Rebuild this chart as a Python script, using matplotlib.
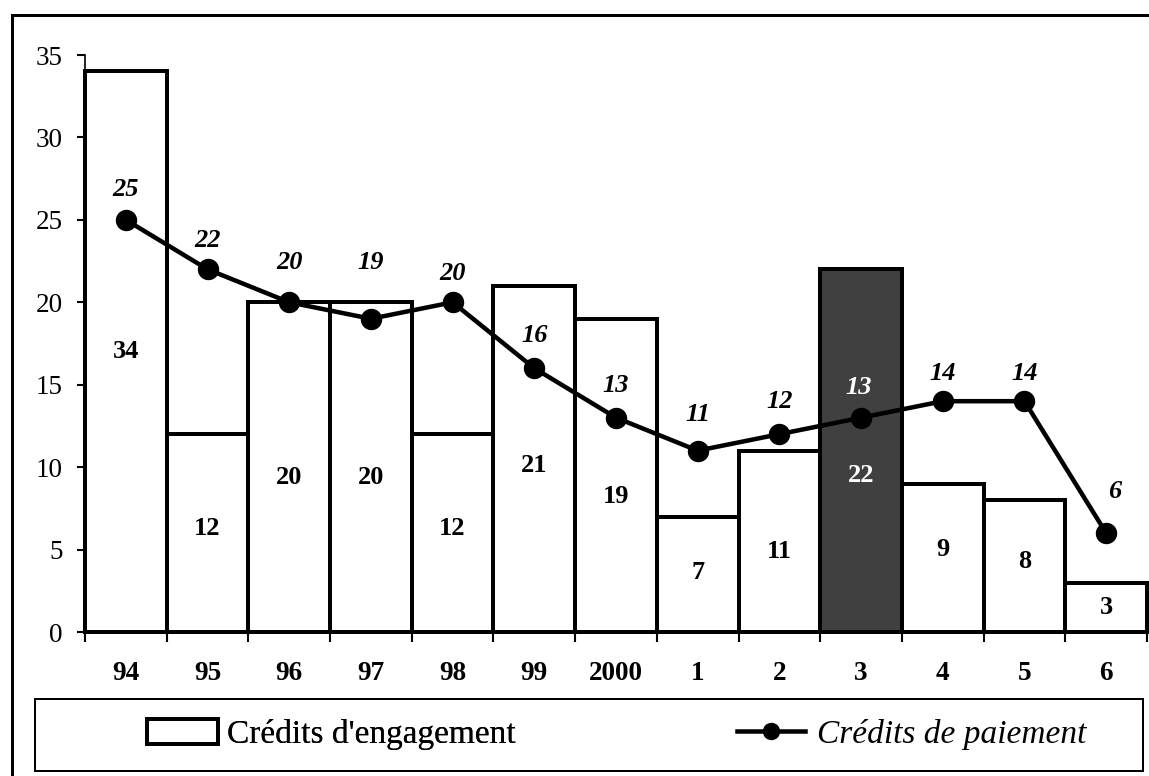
import matplotlib
matplotlib.use("Agg")
import matplotlib.pyplot as plt
from matplotlib.patches import Rectangle
from matplotlib.font_manager import FontProperties
from matplotlib.ticker import FixedLocator

# ---- data ----
categories = ["94", "95", "96", "97", "98", "99", "2000", "1", "2", "3", "4", "5", "6"]
engagement = [34, 12, 20, 20, 12, 21, 19, 7, 11, 22, 9, 8, 3]
paiement = [25, 22, 20, 19, 20, 16, 13, 11, 12, 13, 14, 14, 6]
highlight_index = 9

# ---- label placement (positions only) ----
bar_label_y = [17.0, 6.3, 9.4, 9.4, 6.3, 10.1, 8.2, 3.6, 4.9, 9.5, 5.0, 4.3, 1.5]
line_label_off_px = [30, 29, 40, 56, 29, 33, 32, 36, 33, 30, 28, 28, 42]
line_label_dx_px = [0, 0, 0, 0, 0, 0, 0, 0, 0, -2, 0, 0, 9]

W, H = 1149, 776
PX = 72.0 / 100.0  # points per pixel

plt.rcParams['font.family'] = ['Liberation Serif', 'DejaVu Serif']

fig = plt.figure(figsize=(W / 100, H / 100), dpi=100)
ax = fig.add_axes([85 / W, 1 - 632 / H, (1147 - 85) / W, (632 - 55) / H])

x = list(range(len(categories)))
colors = ['#404040' if i == highlight_index else 'white' for i in x]
bars = ax.bar(x, engagement, width=1.0, color=colors, edgecolor='black',
              linewidth=4 * PX, zorder=2, clip_on=False)
line, = ax.plot(x, paiement, color='black', linewidth=4.5 * PX, marker='o',
                markersize=20 * PX, zorder=5, clip_on=False)

ax.set_xlim(-0.5, len(categories) - 0.5)
ax.set_ylim(0, 35)

# bar value labels
for i, (v, yp) in enumerate(zip(engagement, bar_label_y)):
    ax.text(i, yp, str(v), ha='center', va='center', fontsize=19,
            fontweight='bold', color='white' if i == highlight_index else 'black',
            zorder=6)

# line value labels
for i, v in enumerate(paiement):
    ax.annotate(str(v), (i, v), xytext=(line_label_dx_px[i] * PX, line_label_off_px[i] * PX),
                textcoords='offset points', ha='center', va='center', fontsize=19,
                fontweight='bold', fontstyle='italic',
                color='white' if i == highlight_index else 'black', zorder=7)

# axes styling
for s in ['top', 'right']:
    ax.spines[s].set_visible(False)
ax.spines['left'].set_linewidth(1.2)
ax.spines['bottom'].set_linewidth(1.2)
ax.set_yticks(range(0, 36, 5))
ax.tick_params(axis='y', length=8 * PX, width=1.5, pad=14 * PX, labelsize=19.5)
ax.set_xticks(x)
ax.set_xticklabels(categories, fontsize=19.5, fontweight='bold')
ax.tick_params(axis='x', which='major', length=0, pad=29 * PX)
ax.xaxis.set_minor_locator(FixedLocator([i - 0.5 for i in range(len(categories) + 1)]))
ax.tick_params(axis='x', which='minor', length=10 * PX, width=1.5, direction='out')

# outer frame
fig.add_artist(Rectangle((12 / W, 1 - 800 / H), (1200 - 12) / W, (800 - 15) / H,
                         transform=fig.transFigure, fill=False, edgecolor='black',
                         linewidth=3 * PX, clip_on=False))
# legend box
fig.add_artist(Rectangle((35 / W, 1 - 771 / H), (1143 - 35) / W, (771 - 699) / H,
                         transform=fig.transFigure, fill=False, edgecolor='black',
                         linewidth=2 * PX))

em = 24 / PX  # legend font em in px
leg1 = fig.legend([bars], ["Crédits d'engagement"], loc='center left',
                  bbox_to_anchor=(147 / W, 1 - 734.5 / H), frameon=False,
                  prop=FontProperties(family='Liberation Serif', size=24),
                  handlelength=71 / em, handleheight=25 / em, handletextpad=9 / em,
                  borderpad=0, borderaxespad=0)
leg2 = fig.legend([line], ["Crédits de paiement"], loc='center left',
                  bbox_to_anchor=(737 / W, 1 - 734.5 / H), frameon=False,
                  prop=FontProperties(family='Liberation Serif', size=24, style='italic'),
                  handlelength=68 / em, handletextpad=12 / em, markerscale=0.8,
                  borderpad=0, borderaxespad=0)
fig.add_artist(leg1)

fig.savefig('out.png', dpi=100)
